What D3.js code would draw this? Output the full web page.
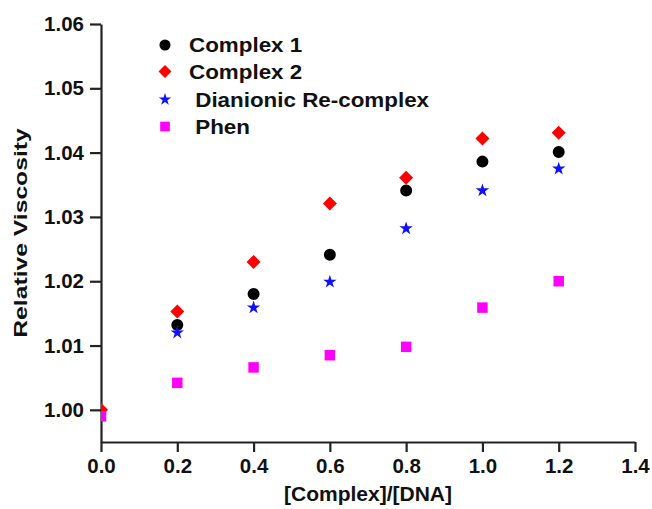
<!DOCTYPE html>
<html>
<head>
<meta charset="utf-8">
<script src="https://cdn.jsdelivr.net/npm/d3@7"></script>
<style>
  body { margin: 0; background: #fff; }
  text { font-family: "Liberation Sans", Arial, sans-serif; font-weight: bold; fill: #111; }
</style>
</head>
<body>
<div id="chart"></div>
<script>
// data
var ratios = [0.0, 0.2, 0.4, 0.6, 0.8, 1.0, 1.2];
var complex1 = [null, 1.0132, 1.0180, 1.0241, 1.0341, 1.0386, 1.0401];
var complex2 = [1.0000, 1.0153, 1.0230, 1.0321, 1.0361, 1.0422, 1.0431];
var dianionic = [null, 1.0120, 1.0159, 1.0199, 1.0282, 1.0341, 1.0375];
var phen = [0.9990, 1.0042, 1.0066, 1.0085, 1.0098, 1.0159, 1.0200];
var xTicks = [0.0, 0.2, 0.4, 0.6, 0.8, 1.0, 1.2, 1.4];
var yTicks = [1.00, 1.01, 1.02, 1.03, 1.04, 1.05, 1.06];
var seriesNames = ["Complex 1", "Complex 2", " Dianionic Re-complex", " Phen"];

var width = 652, height = 509;
var margin = { top: 24, right: 17, bottom: 67, left: 101 };

var svg = d3.select("#chart").append("svg")
  .attr("width", width)
  .attr("height", height);

var x = d3.scaleLinear()
  .domain([0, 1.4])
  .range([margin.left, width - margin.right]);

var y = d3.scaleLinear()
  .domain([0.995, 1.06])
  .range([height - margin.bottom, margin.top]);

// series styling
var series = [
  { name: seriesNames[0], values: complex1, symbol: d3.symbolCircle, size: 113, color: "#000000", rotate: 0 },
  { name: seriesNames[1], values: complex2, symbol: d3.symbolSquare, size: 98, color: "#ff0000", rotate: 45 },
  { name: seriesNames[2], values: dianionic, symbol: d3.symbolStar, size: 56, color: "#1010ff", rotate: 0 },
  { name: seriesNames[3], values: phen, symbol: d3.symbolSquare, size: 110, color: "#ff00ff", rotate: 0 }
];

svg.append("clipPath")
  .attr("id", "plot-clip")
  .append("rect")
  .attr("x", x(0))
  .attr("y", y(1.06) - 10)
  .attr("width", x(1.4) - x(0) + 10)
  .attr("height", y(0.995) - y(1.06) + 10);

// x axis
svg.append("g")
  .attr("transform", `translate(0,${y(0.995)})`)
  .call(d3.axisBottom(x).tickValues(xTicks).tickFormat(d3.format(".1f")).tickSize(10).tickSizeOuter(0).tickPadding(6))
  .call((g) => g.select(".domain").attr("stroke", "#222").attr("stroke-width", 2.2))
  .call((g) => g.selectAll(".tick line").attr("stroke", "#222").attr("stroke-width", 2.2))
  .call((g) => g.selectAll(".tick text").attr("font-size", 20.5).attr("fill", "#111").attr("font-family", null));

// y axis
svg.append("g")
  .attr("transform", `translate(${x(0)},0)`)
  .call(d3.axisLeft(y).tickValues(yTicks).tickFormat(d3.format(".2f")).tickSize(11).tickSizeOuter(0).tickPadding(6))
  .call((g) => g.select(".domain").attr("stroke", "#222").attr("stroke-width", 2.2))
  .call((g) => g.selectAll(".tick line").attr("stroke", "#222").attr("stroke-width", 2.2))
  .call((g) => g.selectAll(".tick text").attr("font-size", 20.5).attr("fill", "#111").attr("font-family", null));

// points
var plot = svg.append("g").attr("clip-path", "url(#plot-clip)");

series.forEach(function (s) {
  var pts = ratios.map((r, i) => ({ r: r, v: s.values[i] })).filter((d) => d.v != null);
  plot.append("g")
    .selectAll("path")
    .data(pts)
    .join("path")
    .attr("d", d3.symbol(s.symbol, s.size))
    .attr("fill", s.color)
    .attr("transform", (d) => `translate(${x(d.r)},${y(d.v)}) rotate(${s.rotate})`);
});

// legend
var legend = svg.append("g");
var legendY = [45, 71.5, 99.5, 126.5];
series.forEach(function (s, i) {
  legend.append("path")
    .attr("d", d3.symbol(s.symbol, s.size * 0.85))
    .attr("fill", s.color)
    .attr("transform", `translate(165,${legendY[i]}) rotate(${s.rotate})`);
  legend.append("text")
    .attr("transform", `translate(189,${legendY[i]}) scale(1.12,1)`)
    .attr("dy", "0.36em")
    .attr("font-size", 20)
    .attr("xml:space", "preserve")
    .style("white-space", "pre")
    .text(s.name);
});

// axis titles
svg.append("text")
  .attr("x", (x(0) + x(1.4)) / 2)
  .attr("y", 501)
  .attr("text-anchor", "middle")
  .attr("font-size", 21)
  .text("[Complex]/[DNA]");

svg.append("text")
  .attr("transform", `translate(27,${(y(0.995) + y(1.06)) / 2}) rotate(-90) scale(1.3,1)`)
  .attr("text-anchor", "middle")
  .attr("font-size", 19)
  .text("Relative Viscosity");
</script>
</body>
</html>
